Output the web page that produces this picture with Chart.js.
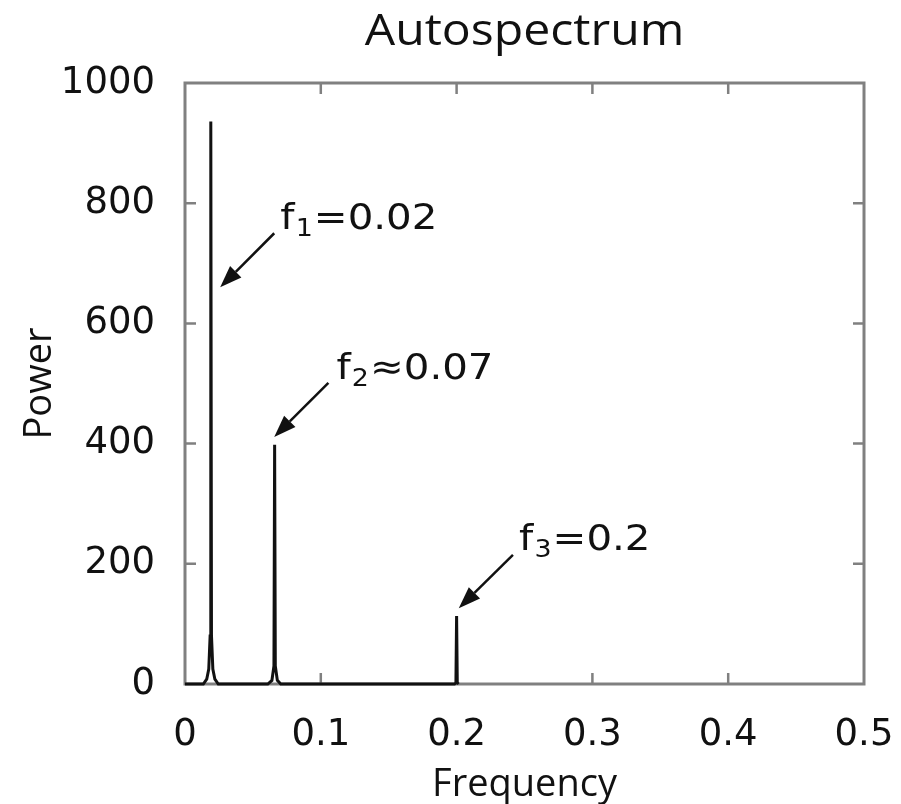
<!DOCTYPE html>
<html>
<head>
<meta charset="utf-8">
<title>Autospectrum</title>
<script src="https://cdn.jsdelivr.net/npm/chart.js@4/dist/chart.umd.min.js"></script>
<style>
    body { margin: 0; background: #fff; }
    canvas { display: block; }
</style>
</head>
<body>
<canvas id="spectrum-chart" width="901" height="804"></canvas>
<script>
// Dữ liệu phổ (tần số - công suất)
const frequency = [0, 0.0135, 0.016, 0.0175, 0.0185, 0.019, 0.0195, 0.0205, 0.022, 0.0245,
    0.061, 0.064, 0.0655, 0.066, 0.0665, 0.068, 0.0705,
    0.1985, 0.1995, 0.2, 0.2005, 0.2015];
const power = [0, 0, 8, 25, 80, 936, 80, 25, 8, 0,
    0, 6, 30, 398, 30, 6, 0,
    0, 2, 113, 2, 0];

// Nhãn trục
const xTicks = [0, 0.1, 0.2, 0.3, 0.4, 0.5];
const yTicks = [0, 200, 400, 600, 800, 1000];

// Chú thích các đỉnh (toạ độ theo đơn vị dữ liệu)
const noteSubs = ["1", "2", "3"];
const noteSigns = ["=", "\u2248", "="];
const noteValues = ["0.02", "0.07", "0.2"];
const noteTextX = [0.0702, 0.1115, 0.246];
const noteTextY = [757, 507, 223];
const arrowTailX = [0.0657, 0.1056, 0.2415];
const arrowTailY = [750, 501, 215];
const arrowTipX = [0.0259, 0.0657, 0.2016];
const arrowTipY = [660, 411, 126];

const frameColor = "#808080";
const inkColor = "#111111";

// Vẽ khung, vạch chia hướng vào trong, tiêu đề và mũi tên chú thích
const framePlugin = {
    id: "framePlugin",
    beforeDatasetsDraw(chart) {
        const { ctx, chartArea: a, scales } = chart;
        ctx.save();
        ctx.strokeStyle = frameColor;
        ctx.lineWidth = 3;
        ctx.strokeRect(a.left, a.top, a.right - a.left, a.bottom - a.top);
        ctx.lineWidth = 2.5;
        ctx.beginPath();
        xTicks.slice(1, -1).forEach(v => {
            const px = scales.x.getPixelForValue(v);
            ctx.moveTo(px, a.bottom); ctx.lineTo(px, a.bottom - 11);
            ctx.moveTo(px, a.top); ctx.lineTo(px, a.top + 11);
        });
        yTicks.slice(1, -1).forEach(v => {
            const py = scales.y.getPixelForValue(v);
            ctx.moveTo(a.left, py); ctx.lineTo(a.left + 11, py);
            ctx.moveTo(a.right, py); ctx.lineTo(a.right - 11, py);
        });
        ctx.stroke();
        ctx.restore();
    },
    afterDatasetsDraw(chart) {
        const { ctx, chartArea: a, scales } = chart;
        ctx.save();
        ctx.fillStyle = inkColor;
        ctx.strokeStyle = inkColor;

        // Tiêu đề
        ctx.save();
        ctx.translate((a.left + a.right) / 2, 45);
        ctx.scale(1.12, 1);
        ctx.font = "43px 'Open Sans'";
        ctx.textAlign = "center";
        ctx.textBaseline = "alphabetic";
        ctx.fillText("Autospectrum", 0, 0);
        ctx.restore();

        for (let i = 0; i < noteSubs.length; i++) {
            // Mũi tên
            const x0 = scales.x.getPixelForValue(arrowTailX[i]);
            const y0 = scales.y.getPixelForValue(arrowTailY[i]);
            const x1 = scales.x.getPixelForValue(arrowTipX[i]);
            const y1 = scales.y.getPixelForValue(arrowTipY[i]);
            const ang = Math.atan2(y1 - y0, x1 - x0);
            const headLen = 22, headW = 8;
            const bx = x1 - headLen * Math.cos(ang);
            const by = y1 - headLen * Math.sin(ang);
            ctx.lineWidth = 2.5;
            ctx.beginPath();
            ctx.moveTo(x0, y0);
            ctx.lineTo(bx, by);
            ctx.stroke();
            ctx.beginPath();
            ctx.moveTo(x1, y1);
            ctx.lineTo(bx + headW * Math.sin(ang), by - headW * Math.cos(ang));
            ctx.lineTo(bx - headW * Math.sin(ang), by + headW * Math.cos(ang));
            ctx.closePath();
            ctx.fill();

            // Chữ: f, chỉ số dưới, dấu và giá trị
            const tx = scales.x.getPixelForValue(noteTextX[i]);
            const ty = scales.y.getPixelForValue(noteTextY[i]);
            ctx.save();
            ctx.translate(tx, ty);
            ctx.scale(1.12, 1);
            ctx.textAlign = "left";
            ctx.textBaseline = "alphabetic";
            ctx.font = "36px 'DejaVu Sans'";
            let cx = 0;
            ctx.fillText("f", cx, 0);
            cx += ctx.measureText("f").width + 1;
            ctx.font = "24px 'DejaVu Sans'";
            ctx.fillText(noteSubs[i], cx, 7);
            cx += ctx.measureText(noteSubs[i]).width + 1;
            ctx.font = "36px 'DejaVu Sans'";
            ctx.fillText(noteSigns[i] + noteValues[i], cx, 0);
            ctx.restore();
        }
        ctx.restore();
    }
};

const ctx = document.getElementById("spectrum-chart").getContext("2d");

new Chart(ctx, {
    type: "line",
    data: {
        datasets: [{
            label: "Power",
            data: frequency.map((f, i) => ({ x: f, y: power[i] })),
            borderColor: inkColor,
            borderWidth: 3,
            pointRadius: 0,
            tension: 0,
            fill: false,
            clip: false
        }]
    },
    options: {
        responsive: false,
        animation: false,
        layout: {
            padding: { top: 83, right: 37, left: 0, bottom: 0 }
        },
        plugins: {
            legend: { display: false },
            tooltip: { enabled: false },
            title: { display: false }
        },
        scales: {
            x: {
                type: "linear",
                min: 0,
                max: 0.5,
                afterBuildTicks: scale => { scale.ticks = xTicks.map(v => ({ value: v })); },
                afterFit: scale => {
                    scale.height = 120;
                    scale.paddingLeft = 0;
                    scale.paddingRight = 0;
                },
                grid: { display: false },
                border: { display: false },
                ticks: {
                    padding: 21,
                    color: inkColor,
                    font: { family: "DejaVu Sans", size: 37 },
                    callback: v => String(+v.toFixed(1))
                },
                title: {
                    display: true,
                    text: "Frequency",
                    color: inkColor,
                    font: { family: "Open Sans", size: 38, lineHeight: 1 },
                    padding: { top: 0, bottom: 0 }
                }
            },
            y: {
                type: "linear",
                min: 0,
                max: 1000,
                afterBuildTicks: scale => { scale.ticks = yTicks.map(v => ({ value: v })); },
                afterFit: scale => {
                    scale.width = 185;
                    scale.paddingTop = 0;
                    scale.paddingBottom = 0;
                },
                grid: { display: false },
                border: { display: false },
                ticks: {
                    padding: 22,
                    color: inkColor,
                    font: { family: "DejaVu Sans", size: 37 },
                    callback: v => String(v)
                },
                title: {
                    display: true,
                    text: "Power",
                    color: inkColor,
                    font: { family: "Open Sans", size: 38 },
                    padding: { top: 17, bottom: 0 }
                }
            }
        }
    },
    plugins: [framePlugin]
});
</script>
</body>
</html>
